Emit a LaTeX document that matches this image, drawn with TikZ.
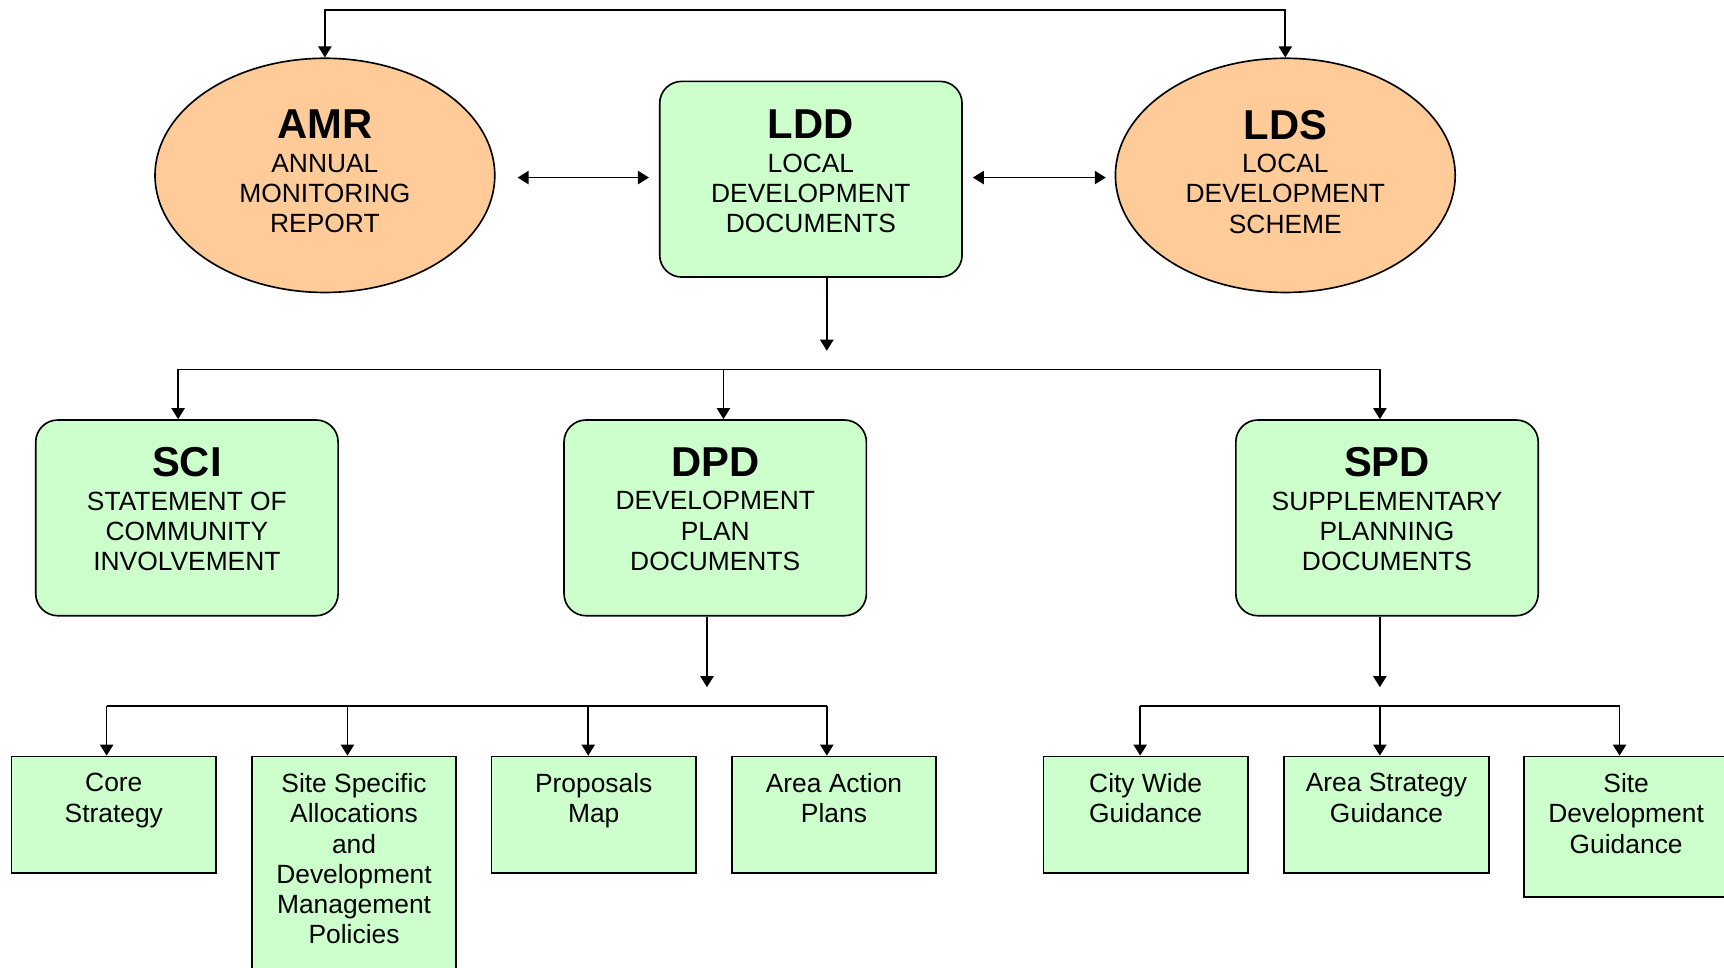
\documentclass[tikz,border=0pt]{standalone}
\usepackage{fontspec}
\setmainfont{Liberation Sans}
\usetikzlibrary{shapes.geometric,arrows.meta}

\definecolor{greenfill}{HTML}{CCFFCC}
\definecolor{orangefill}{HTML}{FFCC99}

\tikzset{
    body/.style={font=\fontsize{24}{27.5}\selectfont},
    report/.style={ellipse, draw, fill=orangefill, minimum width=309pt, minimum height=213pt, inner sep=0pt, align=center, body},
    docbox/.style={rectangle, rounded corners=20pt, draw, fill=greenfill, minimum width=275pt, minimum height=178pt, inner sep=0pt, align=center, body},
    leafbox/.style={rectangle, draw, fill=greenfill, minimum width=186pt, minimum height=106pt},
    leaftext/.style={anchor=north, align=center, inner sep=0pt, yshift=-15.5pt, body},
}
\newcommand{\heading}[1]{{\fontsize{38}{38}\selectfont\bfseries #1}\\[3pt]}
\newcommand{\drop}[1]{\rule[-#1]{0pt}{0pt}}

\begin{document}
\begin{tikzpicture}[x=1pt, y=-1pt, >={Triangle[length=10pt,width=12pt]}, line width=1.5pt]
    \useasboundingbox (0,0) rectangle (1568,880);
    \clip (0,0) rectangle (1568,880);
    % top row
    \node[report] (amr) at (295.5,159.5) {\heading{AMR}ANNUAL\\MONITORING\\REPORT\drop{7pt}};
    \node[docbox] (ldd) at (737.5,163) {\heading{LDD}LOCAL\\DEVELOPMENT\\DOCUMENTS\drop{14pt}};
    \node[report] (lds) at (1169,159.5) {\heading{LDS}LOCAL\\DEVELOPMENT\\SCHEME\drop{7pt}};
    \coordinate (topbar) at (730,9);
    \draw[<->] (amr.north) |- (topbar) -| (lds.north);
    \draw[<->] ([xshift=20pt, yshift=-2pt]amr.east) -- ([xshift=-9pt, yshift=-2pt]amr.east -| ldd.west);
    \draw[<->] ([xshift=9pt, yshift=-2pt]ldd.east |- lds.west) -- ([xshift=-8pt, yshift=-2pt]lds.west);

    % middle row
    \node[docbox] (sci) at (170,471) {\heading{SCI}STATEMENT OF\\COMMUNITY\\INVOLVEMENT\drop{16pt}};
    \node[docbox] (dpd) at (650.5,471) {\heading{DPD}DEVELOPMENT\\PLAN\\DOCUMENTS\drop{16pt}};
    \node[docbox] (spd) at (1261.5,471) {\heading{SPD}SUPPLEMENTARY\\PLANNING\\DOCUMENTS\drop{16pt}};
    \coordinate (lddtip) at (752,319);
    \draw[->] (ldd.south -| lddtip) -- (lddtip);
    \coordinate (mid1) at (162,336);
    \coordinate (mid2) at (658,336);
    \coordinate (mid3) at (1255,336);
    \draw (mid1) -- (mid3);
    \foreach \b/\n in {mid1/sci, mid2/dpd, mid3/spd}
        {
            \draw[->] (\b) -- (\b |- \n.north);
        }

    % bottom row, DPD
    \node[leafbox] (core) at (103.5,741) {};
    \node[leaftext] (coretext) at (core.north) {Core\\Strategy};
    \node[leafbox, minimum height=220pt] (ssa) at (322,798) {};
    \node[leaftext] (ssatext) at (ssa.north) {Site Specific\\Allocations\\and\\Development\\Management\\Policies};
    \node[leafbox] (pmap) at (540,741) {};
    \node[leaftext] (pmaptext) at (pmap.north) {Proposals\\Map};
    \node[leafbox] (aap) at (758.5,741) {};
    \node[leaftext] (aaptext) at (aap.north) {Area Action\\Plans};
    \coordinate (dpdtip) at (643,625);
    \draw[->] (dpd.south -| dpdtip) -- (dpdtip);
    \coordinate (low1) at (97,642);
    \coordinate (low2) at (316,642);
    \coordinate (low3) at (535,642);
    \coordinate (low4) at (752,642);
    \draw (low1) -- (low4);
    \foreach \b/\n in {low1/core, low2/ssa, low3/pmap, low4/aap}
        {
            \draw[->] (\b) -- (\b |- \n.north);
        }

    % bottom row, SPD
    \node[leafbox] (cwg) at (1042,741) {};
    \node[leaftext] (cwgtext) at (cwg.north) {City Wide\\Guidance};
    \node[leafbox] (asg) at (1261,741) {};
    \node[leaftext] (asgtext) at (asg.north) {Area Strategy\\Guidance};
    \node[leafbox, minimum height=128pt] (sdg) at (1479,752) {};
    \node[leaftext] (sdgtext) at (sdg.north) {Site\\Development\\Guidance};
    \coordinate (spdtip) at (1255,625);
    \draw[->] (spd.south -| spdtip) -- (spdtip);
    \coordinate (low5) at (1037,642);
    \coordinate (low6) at (1255,642);
    \coordinate (low7) at (1473,642);
    \draw (low5) -- (low7);
    \foreach \b/\n in {low5/cwg, low6/asg, low7/sdg}
        {
            \draw[->] (\b) -- (\b |- \n.north);
        }
\end{tikzpicture}
\end{document}
